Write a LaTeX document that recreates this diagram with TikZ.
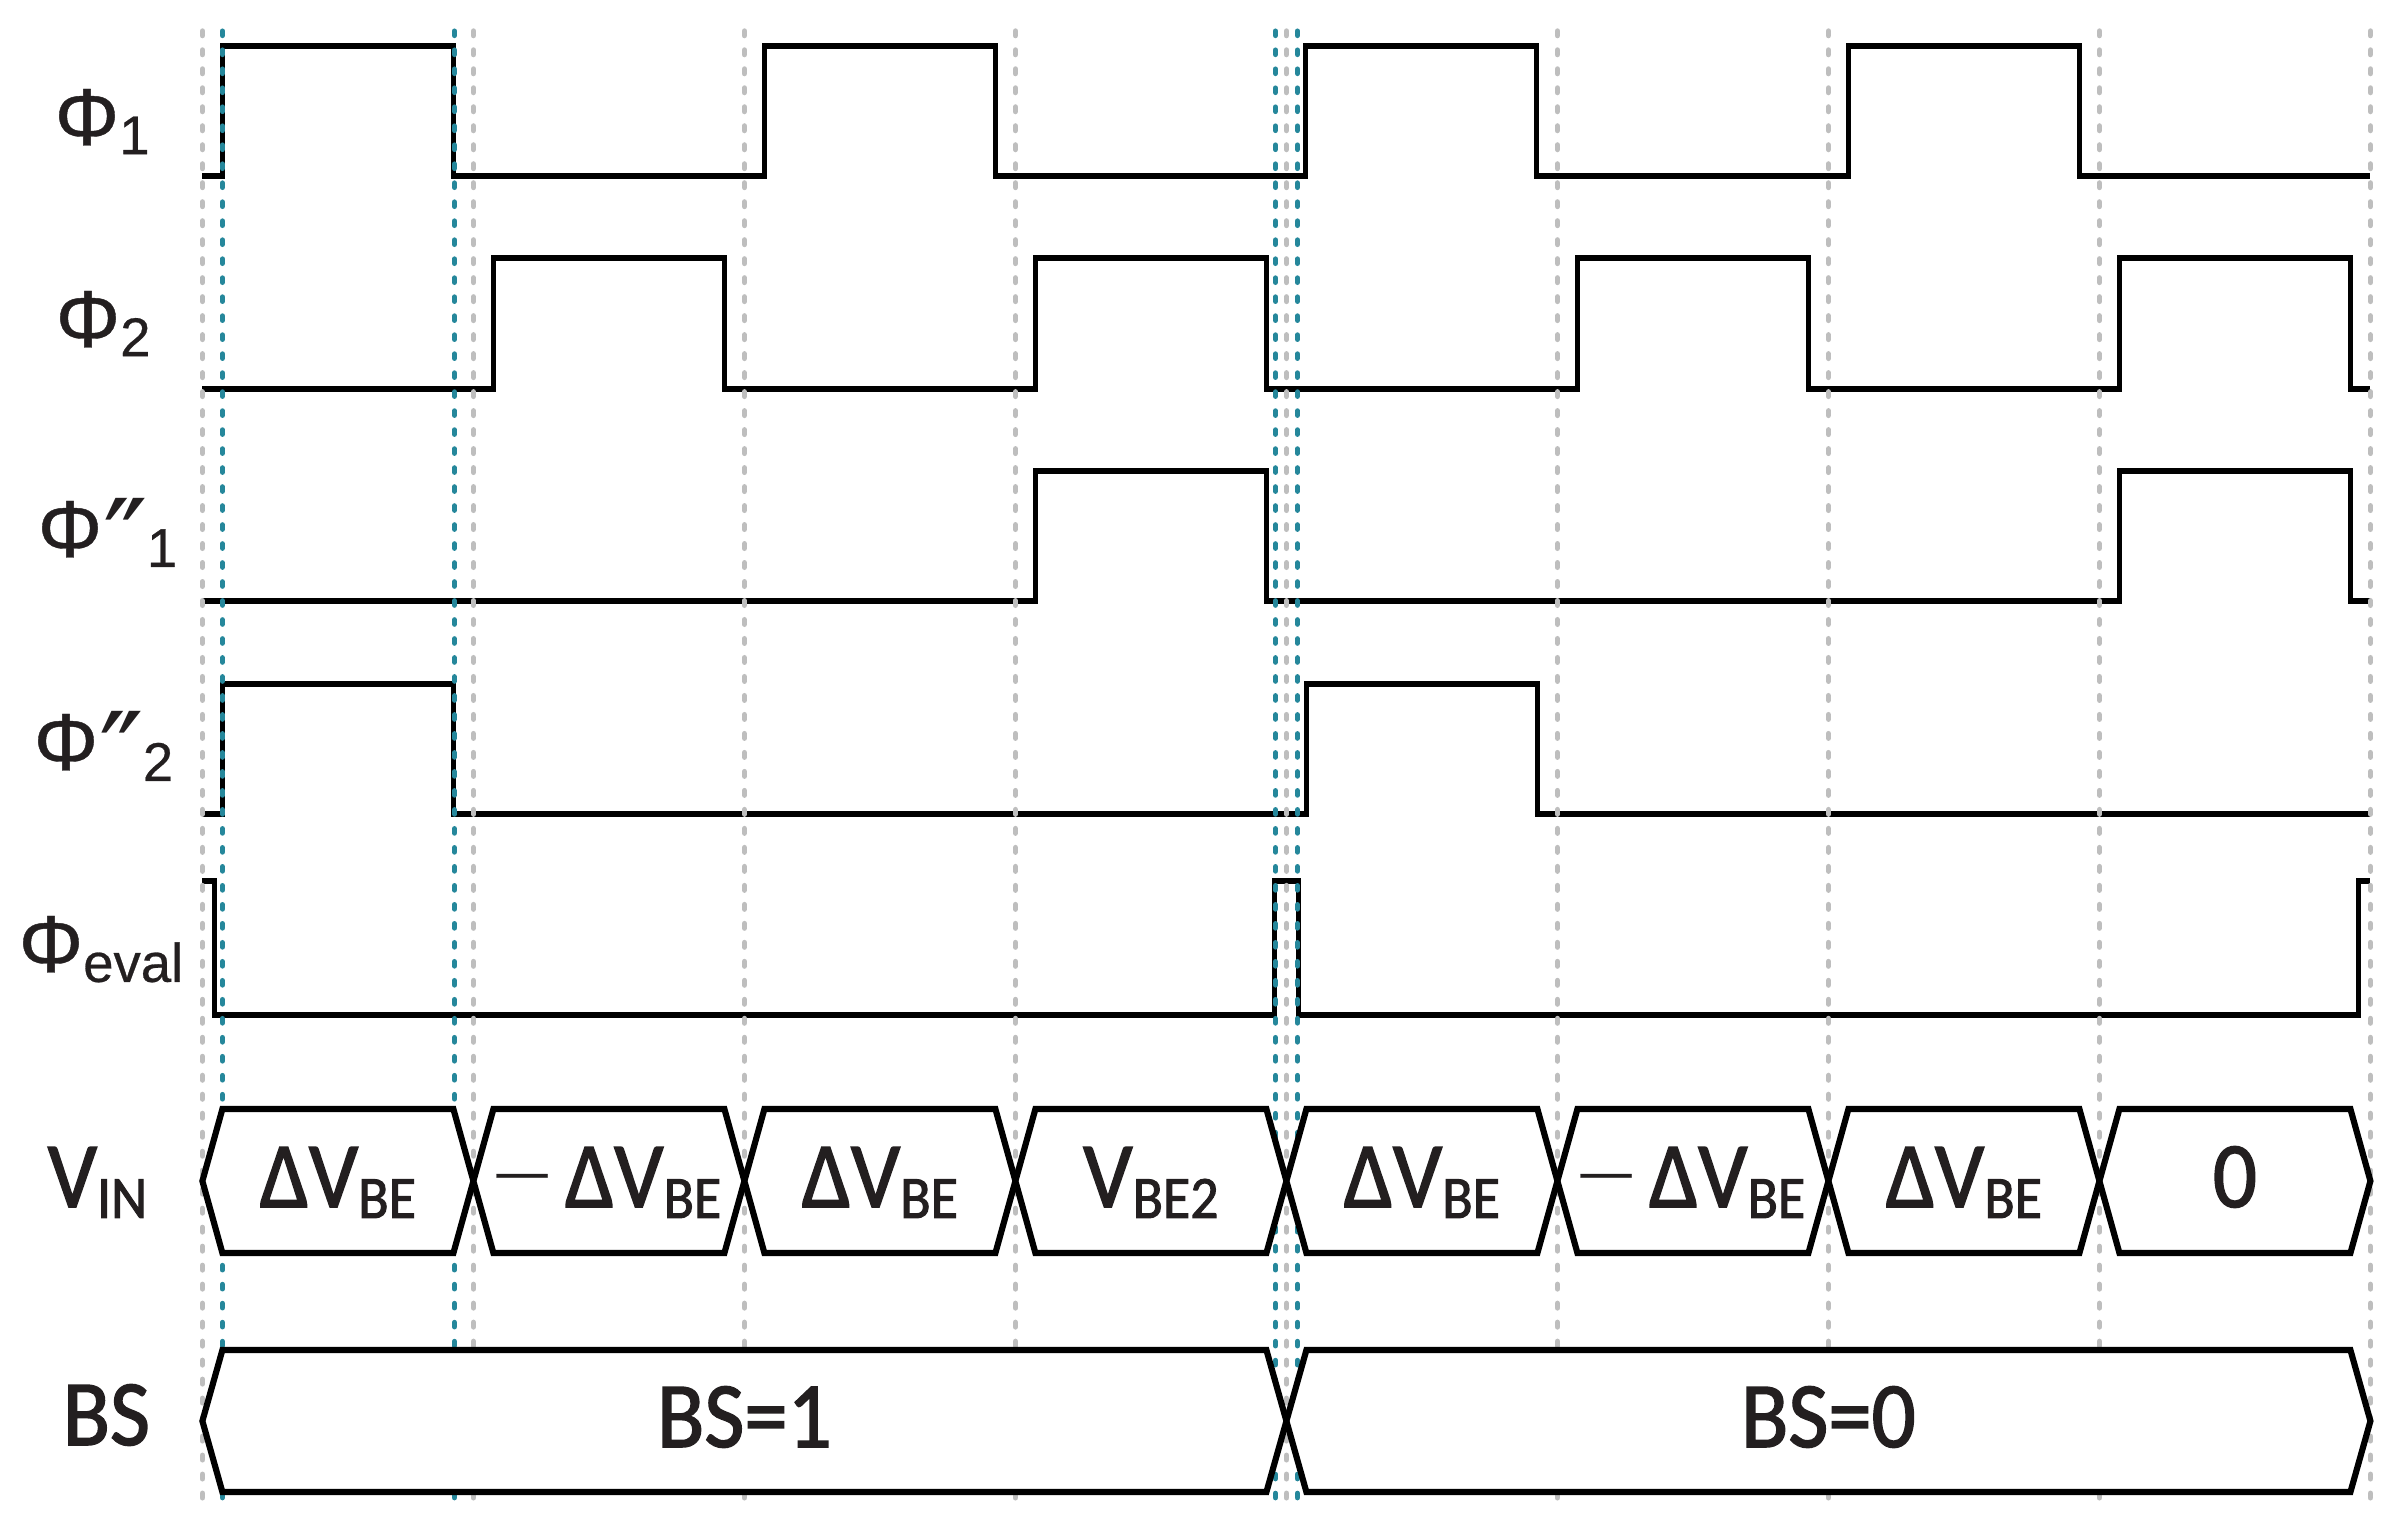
\documentclass[tikz,border=0pt]{standalone}
\usepackage{fontspec}
\setmainfont{Liberation Sans}[FakeBold=0.5]
\newfontfamily\busfont{Carlito}[FakeBold=1.6,FakeStretch=0.93]
\newfontfamily\primefont{DejaVu Sans}
\definecolor{txtcol}{RGB}{35,31,32}
\definecolor{gridgray}{RGB}{190,190,190}
\definecolor{tealmark}{RGB}{37,135,155}
\newcommand{\PhiTxt}{\fontsize{23pt}{24pt}\selectfont Φ}
\newcommand{\lowsub}[2]{\raisebox{-#1}{\fontsize{15.5pt}{16pt}\selectfont #2}}
\newcommand{\dprime}{\hspace{0.5pt}\raisebox{-8pt}{\primefont\fontsize{34pt}{35pt}\selectfont ″}\hspace{-0.5pt}}
\newcommand{\bussub}[1]{\raisebox{-3.1pt}{\fontsize{17.1pt}{18pt}\selectfont #1}}
\newcommand{\busneg}{\raisebox{5.2pt}{\rmfamily\fontsize{14.5pt}{15pt}\selectfont —}\hspace{5pt}}
\newcommand{\busseg}[5]{\draw[busshape] (#1,#4) -- ({#1+20},#3) -- ({#2-20},#3) -- (#2,#4) -- ({#2-20},#5) -- ({#1+20},#5) -- cycle;}
\begin{document}
\begin{tikzpicture}[x=0.01cm,y=-0.01cm,
  wave/.style={line width=1.55pt, black},
  busshape/.style={line width=1.75pt, black, fill=white, line join=miter},
  gridline/.style={gridgray, line width=1.55pt, line cap=round, dash pattern=on 1.3pt off 4.1pt},
  markline/.style={tealmark, line width=1.45pt, line cap=round, dash pattern=on 1.3pt off 4.1pt},
  lbl/.style={inner sep=0pt, text=txtcol, anchor=base west},
  bustxt/.style={inner sep=0pt, text=txtcol, anchor=base, font=\busfont\fontsize{26.6pt}{28pt}\selectfont}]
\useasboundingbox (0,0) rectangle (2404,1535);

% waveforms
% Phi1
\draw[wave] (202.4,176) -- (222.4,176) -- (222.4,46) -- (453.4,46) -- (453.4,176)
  -- (764.4,176) -- (764.4,46) -- (995.4,46) -- (995.4,176)
  -- (1305.4,176) -- (1305.4,46) -- (1536.4,46) -- (1536.4,176)
  -- (1848.4,176) -- (1848.4,46) -- (2079.4,46) -- (2079.4,176) -- (2370.4,176);
% Phi2
\draw[wave] (202.4,389) -- (493.4,389) -- (493.4,258) -- (724.4,258) -- (724.4,389)
  -- (1035.4,389) -- (1035.4,258) -- (1266.4,258) -- (1266.4,389)
  -- (1577.4,389) -- (1577.4,258) -- (1808.4,258) -- (1808.4,389)
  -- (2119.4,389) -- (2119.4,258) -- (2350.4,258) -- (2350.4,389) -- (2370.4,389);
% Phi''1
\draw[wave] (202.4,601) -- (1035.4,601) -- (1035.4,471) -- (1266.4,471) -- (1266.4,601)
  -- (2119.4,601) -- (2119.4,471) -- (2350.4,471) -- (2350.4,601) -- (2370.4,601);
% Phi''2
\draw[wave] (202.4,814) -- (222.4,814) -- (222.4,684) -- (453.4,684) -- (453.4,814)
  -- (1306.4,814) -- (1306.4,684) -- (1537.4,684) -- (1537.4,814) -- (2370.4,814);
% Phi eval
\draw[wave] (202.4,881) -- (214.4,881) -- (214.4,1015) -- (1274.4,1015) -- (1274.4,881)
  -- (1298.4,881) -- (1298.4,1015) -- (2358.4,1015) -- (2358.4,881) -- (2370.4,881);

% dashed guide lines
\foreach \gx in {202.4,473.4,744.4,1015.4,1286.4,1557.4,1828.4,2099.4,2370.4}
  \draw[gridline] (\gx,31) -- (\gx,1507);
\foreach \bx in {222.4,454.4,1275.4,1297.4}
  \draw[markline] (\bx,31) -- (\bx,1507);

% VIN bus
\busseg{202.4}{473.4}{1109}{1181}{1253}
\busseg{473.4}{744.4}{1109}{1181}{1253}
\busseg{744.4}{1015.4}{1109}{1181}{1253}
\busseg{1015.4}{1286.4}{1109}{1181}{1253}
\busseg{1286.4}{1557.4}{1109}{1181}{1253}
\busseg{1557.4}{1828.4}{1109}{1181}{1253}
\busseg{1828.4}{2099.4}{1109}{1181}{1253}
\busseg{2099.4}{2370.4}{1109}{1181}{1253}
% BS bus
\busseg{202.4}{1286.4}{1350}{1421}{1492}
\busseg{1286.4}{2370.4}{1350}{1421}{1492}

% signal labels
\node[lbl] (phi1) at (54,145) {\PhiTxt\lowsub{2.6pt}{1}};
\node[lbl] (phi2) at (55,347) {\PhiTxt\lowsub{2.6pt}{2}};
\node[lbl] (phipp1) at (37,557) {\PhiTxt\dprime\lowsub{2.8pt}{1}};
\node[lbl] (phipp2) at (33,770) {\PhiTxt\dprime\lowsub{3.1pt}{2}};
\node[lbl] (phieval) at (18,972) {\PhiTxt\lowsub{2.8pt}{eval}};
\node[lbl, font=\busfont\fontsize{26.6pt}{28pt}\selectfont] (vin) at (47,1207) {V\bussub{IN}};
\node[lbl, font=\busfont\fontsize{26.6pt}{28pt}\selectfont] (bs) at (62,1445) {BS};

% bus contents
\node[bustxt] (v0) at (337.9,1207) {ΔV\bussub{BE}};
\node[bustxt] (v1) at (608.9,1207) {\busneg ΔV\bussub{BE}};
\node[bustxt] (v2) at (879.9,1207) {ΔV\bussub{BE}};
\node[bustxt] (v3) at (1150.9,1207) {V\bussub{BE2}};
\node[bustxt] (v4) at (1421.9,1207) {ΔV\bussub{BE}};
\node[bustxt] (v5) at (1692.9,1207) {\busneg ΔV\bussub{BE}};
\node[bustxt] (v6) at (1963.9,1207) {ΔV\bussub{BE}};
\node[bustxt] (v7) at (2234.9,1207) {0};
\node[bustxt] (bs1) at (744.4,1447) {BS=1};
\node[bustxt] (bs0) at (1828.4,1447) {BS=0};
\end{tikzpicture}
\end{document}
